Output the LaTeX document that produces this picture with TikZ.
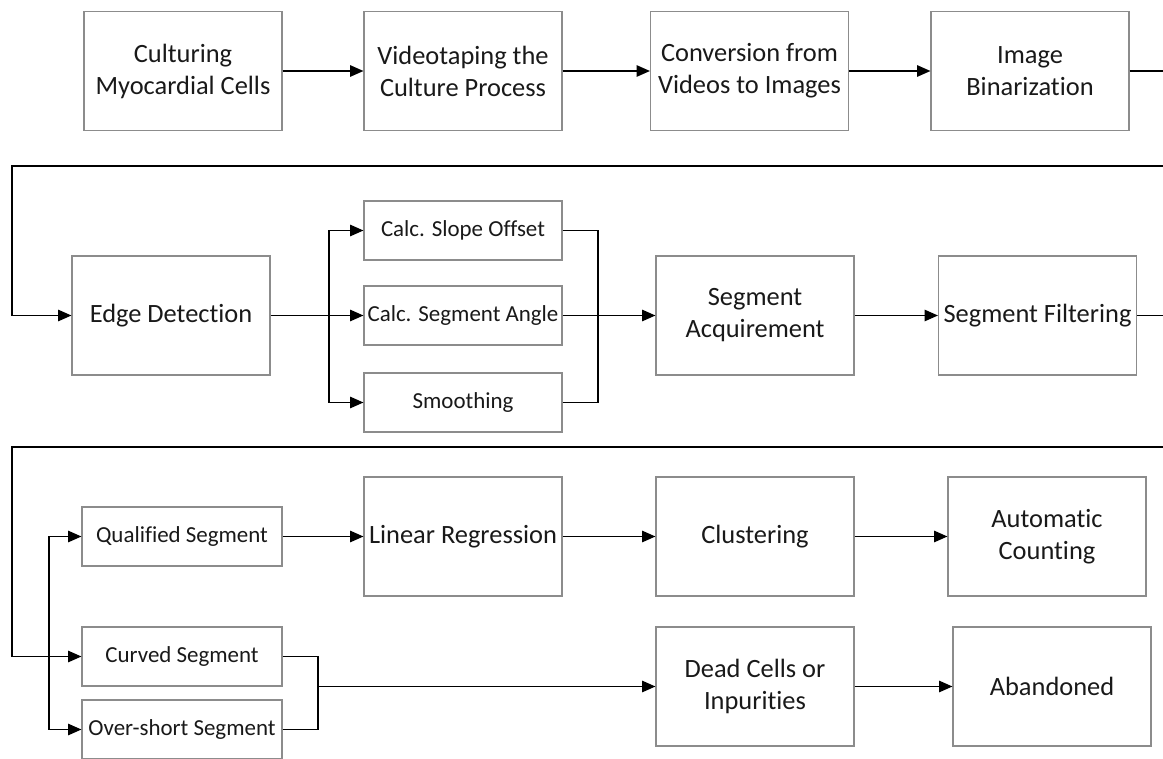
\documentclass[tikz,border=0pt]{standalone}
\usepackage{fontspec}
\setmainfont{Carlito}[Ligatures=NoCommon]
\usetikzlibrary{arrows.meta}
\tikzset{
  box/.style={draw=black!45, line width=0.8pt, fill=white, align=center, inner sep=2pt, text=black!90},
  bigbox/.style={box, minimum width=148.5pt, minimum height=89.25pt, font=\fontsize{19.8}{24}\selectfont},
  smallbox/.style={box, minimum width=148.5pt, minimum height=44.25pt, font=\fontsize{17.2}{19}\selectfont},
  widebox/.style={smallbox, minimum width=150pt},
  conn/.style={line width=1.2pt, black},
  arr/.style={conn, -{Triangle[length=10pt,width=8.5pt]}}
}
\begin{document}
\begin{tikzpicture}[x=0.75pt,y=-0.75pt]
\useasboundingbox (0,0) rectangle (1163,759);
% row 1
\node[bigbox] (b1) at (183,71) {Culturing\\Myocardial Cells};
\node[bigbox] (b2) at (463,71) {Videotaping the\\Culture Process};
\node[bigbox] (b3) at (749.5,71) {Conversion from\\Videos to Images};
\node[bigbox] (b4) at (1030,71) {Image\\Binarization};
% row 2
\node[bigbox] (edge) at (171,315.5) {Edge Detection};
\node[smallbox] (slope) at (463,230.5) {Calc. Slope Offset};
\node[smallbox] (angle) at (463,315.5) {Calc. Segment Angle};
\node[smallbox] (smooth) at (463,402.5) {Smoothing};
\node[bigbox] (acq) at (755,315.5) {Segment\\Acquirement};
\node[bigbox] (filt) at (1037.5,315.5) {Segment Filtering};
% row 3
\node[widebox] (qual) at (182,536.5) {Qualified Segment};
\node[bigbox] (linreg) at (463,536.5) {Linear Regression};
\node[bigbox] (clust) at (755,536.5) {Clustering};
\node[bigbox] (auto) at (1047,536.5) {Automatic\\Counting};
\node[widebox] (curved) at (182,656.5) {Curved Segment};
\node[widebox] (over) at (182,729.5) {Over-short Segment};
\node[bigbox] (dead) at (755,686.5) {Dead Cells or\\Inpurities};
\node[bigbox] (aband) at (1052,686.5) {Abandoned};
% coordinates
\coordinate (r1) at (1163,71);
\coordinate (w1a) at (1163,166);
\coordinate (w1b) at (12,166);
\coordinate (br1) at (329,315.5);
\coordinate (mg1) at (598,315.5);
\coordinate (r2) at (1163,315.5);
\coordinate (w2a) at (1163,447);
\coordinate (w2b) at (12,447);
\coordinate (br2) at (49,656.5);
\coordinate (mg2) at (318,686.5);
% row 1 connectors
\draw[arr] (b1) -- (b2);
\draw[arr] (b2) -- (b3);
\draw[arr] (b3) -- (b4);
\draw[conn] (b4.east) -- (r1);
\draw[arr] (w1a) -- (w1b) |- (edge.west);
% row 2 connectors
\draw[arr] (edge.east) -- (angle.west);
\draw[arr] (br1) |- (slope.west);
\draw[arr] (br1) |- (smooth.west);
\draw[conn] (slope.east) -| (mg1);
\draw[conn] (smooth.east) -| (mg1);
\draw[arr] (angle.east) -- (acq.west);
\draw[arr] (acq) -- (filt);
\draw[conn] (filt.east) -- (r2);
\draw[arr] (w2a) -- (w2b) |- (curved.west);
% row 3 connectors
\draw[arr] (br2) |- (qual.west);
\draw[arr] (br2) |- (over.west);
\draw[arr] (qual) -- (linreg);
\draw[arr] (linreg) -- (clust);
\draw[arr] (clust) -- (auto);
\draw[conn] (curved.east) -| (mg2);
\draw[conn] (over.east) -| (mg2);
\draw[arr] (mg2) -- (dead.west);
\draw[arr] (dead) -- (aband);
\end{tikzpicture}
\end{document}
